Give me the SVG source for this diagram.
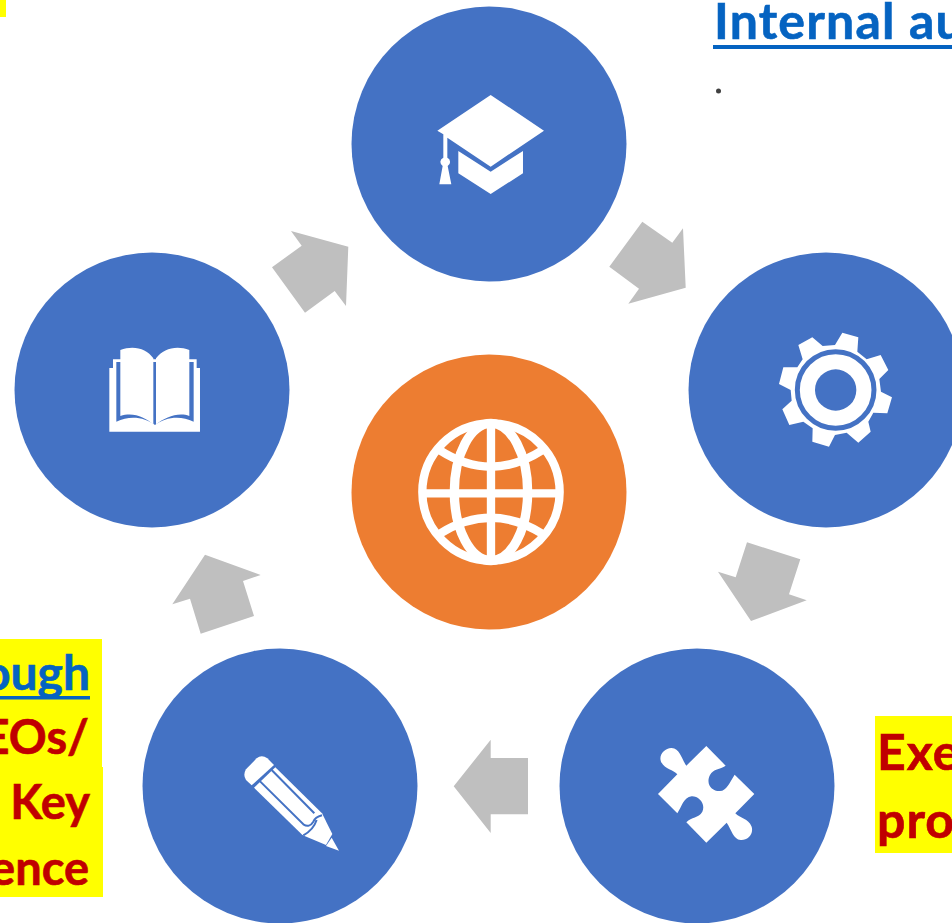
<svg xmlns="http://www.w3.org/2000/svg" width="952" height="923" viewBox="0 0 952 923">
<style>
.n{fill:#4472C4}.c{fill:#ED7D31}.w{fill:#fff}.b{fill:#4472C4}
.a{fill:#BFBFBF}
.y{fill:#FF0}
text{font-family:"Lato","Liberation Sans",sans-serif;font-weight:700;stroke-width:.6px}
.r{fill:#C00000;stroke:#C00000;font-size:50px;letter-spacing:1px}
.l{fill:#C00000;stroke:#C00000;font-size:47px}
.u{fill:#0563C1;stroke:#0563C1;font-size:50px;letter-spacing:1.2px}
.bl{fill:none;stroke:#4472C4;stroke-width:6}
</style>
<rect width="952" height="923" fill="#fff"/>
<g id="labels-bg">
<rect class="y" x="0" y="0" width="6" height="17"/>
<rect class="y" x="0" y="639" width="102" height="128"/>
<rect class="y" x="0" y="767" width="103" height="130"/>
<rect class="y" x="875" y="716" width="77" height="137"/>
</g>
<g id="connectors">
<polygon class="a" points="291,231 348.3,246.7 346,306 334.7,291 305,312.7 272,267.3 301.7,245.7"/>
<polygon class="a" points="642.3,221.7 672.3,242.7 683,228.3 685.7,287.7 628.3,303.7 639,288.7 609.3,266.7"/>
<polygon class="a" points="747,542.3 800.3,559.3 789,594.3 806.7,600.3 751,621 718,571.7 735.7,577.3"/>
<polygon class="a" points="453.7,786.3 490.7,739.7 490.7,758 528,758 528,814.3 490.7,814.3 490.7,833"/>
<polygon class="a" points="205,554.7 260.7,575 243,581 254,616 200.7,633.7 190,598.7 172.3,604.3"/>
</g>
<g id="node-cap">
<circle class="n" cx="489" cy="144" r="137.5"/>
<g transform="translate(400,70) scale(.3333)">
<path class="w" d="M272 75L432 182L272 290L142 203V263A14 14 0 0 1 143 288L154 343H118L128 288A14 14 0 0 1 130 263V193L112 182Z"/>
<path class="w" d="M175 243L272 305L369 243V310L272 372L175 310Z"/>
</g>
</g>
<g id="node-gear">
<circle class="n" cx="826" cy="390" r="137.5"/>
<g transform="translate(750,310) scale(.3333)">
<path class="w" d="M255 105L277 68L325 82L322 125L350 148L392 135L415 180L388 207L393 245L426 262L412 310L370 308L355 335L362 365L325 398L290 368L255 375L237 410L187 395L188 355L160 335L118 345L97 298L125 272L122 240L87 222L100 172L142 172L158 148L145 105L187 82L218 108Z"/>
<circle cx="257" cy="240" r="115" fill="none" stroke="#4472C4" stroke-width="15"/>
<circle class="b" cx="257" cy="240" r="62"/>
</g>
</g>
<g id="node-puzzle">
<circle class="n" cx="697" cy="786" r="137.5"/>
<path class="w" transform="translate(630,720) scale(.3333)" d="M229 78L287 137C270 150 250 145 240 165C225 195 250 215 270 213C290 212 297 190 314 164L373 222L316 280C330 295 355 295 365 320C372 345 350 362 332 360C310 358 305 330 290 308L229 368L169 307C185 290 205 295 217 275C228 250 205 228 185 229C160 232 155 262 142 280L84 222L142 163C130 148 105 150 93 125C85 105 105 83 125 84C150 85 155 118 169 137Z"/>
</g>
<g id="node-pencil">
<circle class="n" cx="280" cy="786" r="137.5"/>
<g transform="translate(220,730) scale(.3333)">
<path class="w" d="M110 85Q125 72 142 85L162 105L95 166L78 150Q68 135 78 118Z"/>
<path class="w" d="M102 173L166 112L306 250L337 312L318 345L252 317L245 313Z"/>
<path class="w" d="M335 323L357 362L318 348Z"/>
<path class="bl" d="M118 152L250 283Q268 295 280 275Q285 262 306 256M155 120L283 250M250 316Q280 300 290 270"/>
</g>
</g>
<g id="node-book">
<circle class="n" cx="152" cy="390" r="137.5"/>
<g transform="translate(90,330) scale(.3333)">
<path class="w" d="M58 114H69V88H320V114H330V305H58Z"/>
<path class="b" d="M79 96H311V275C270 255 225 262 195 285C165 262 120 255 79 275Z"/>
<path class="w" d="M91 60C130 45 170 55 190 85V283C165 262 130 245 91 258Z"/>
<path class="w" d="M198 85C220 55 260 45 298 60V258C265 245 225 262 198 283Z"/>
</g>
</g>
<g id="node-globe">
<circle class="c" cx="489" cy="492" r="137.5"/>
<g transform="translate(400,400) scale(.3333)" fill="none" stroke="#fff" stroke-width="25">
<circle cx="273" cy="276" r="206"/>
<ellipse cx="273" cy="276" rx="110" ry="206" stroke-width="28"/>
<path d="M273 70V482M67 280H479"/>
<path d="M118 150Q273 250 428 150M118 402Q273 305 428 402"/>
</g>
</g>
<g id="label-left">
<text class="u" x="90" y="690" text-anchor="end" style="font-size:48px;letter-spacing:0">ough</text>
<rect x="0" y="696" width="90" height="3.5" fill="#0563C1"/>
<text class="l" x="89" y="754" text-anchor="end">EOs/</text>
<text class="l" x="90" y="819" text-anchor="end">Key</text>
<text class="l" x="89" y="885" text-anchor="end">ence</text>
</g>
<g id="label-right">
<text class="r" x="877" y="770">Exe</text>
<text class="r" x="877" y="838">pro</text>
</g>
<g id="label-top">
<text class="u" x="714" y="39">Internal au</text>
<rect x="713" y="45" width="239" height="4" fill="#0563C1"/>
<circle cx="718.5" cy="91" r="2.5" fill="#404040"/>
</g>
</svg>
